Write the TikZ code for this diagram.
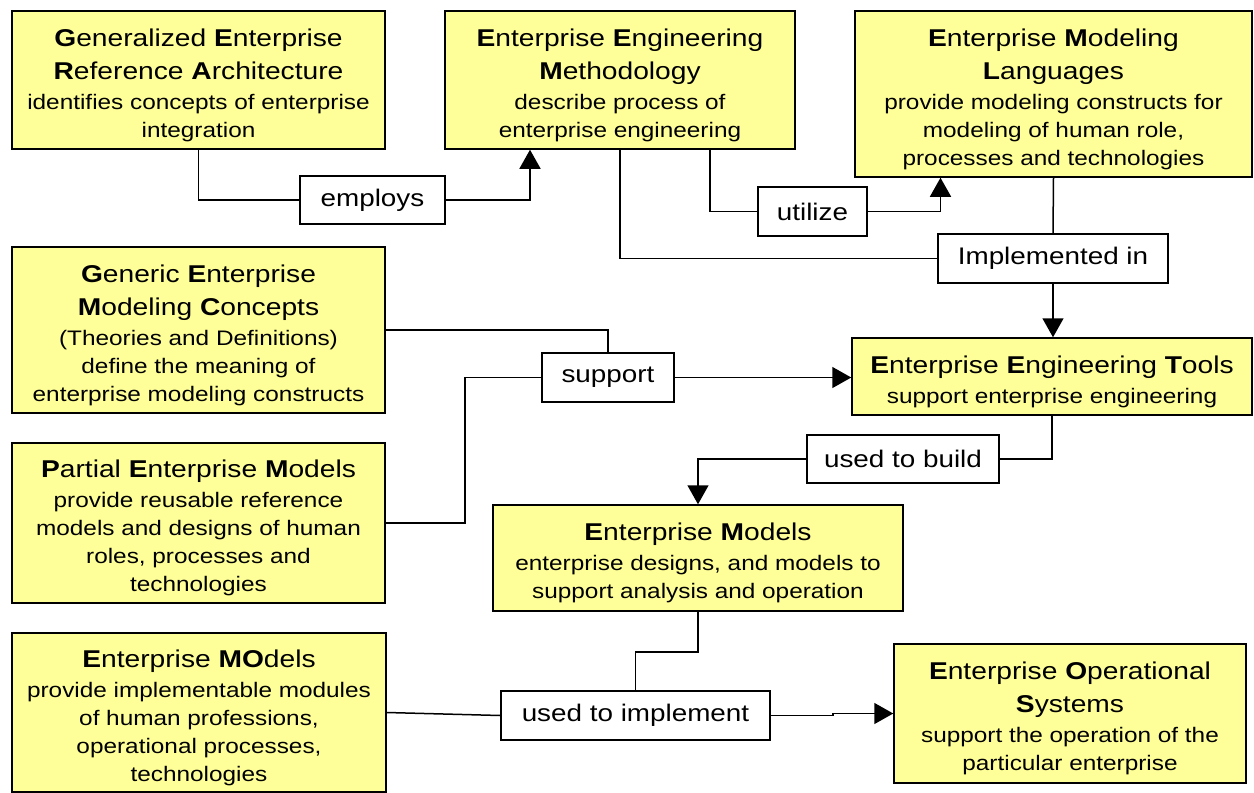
\documentclass[tikz,border=0pt]{standalone}
\usepackage{fontspec}
\setmainfont[FakeStretch=1.16]{Liberation Sans}
\usetikzlibrary{arrows.meta}

\definecolor{boxyellow}{RGB}{255,255,153}
\newcommand{\ttlfont}{\fontsize{24.3}{33}\selectfont\spaceskip=0.32em\relax}
\newcommand{\descfont}{\fontsize{21}{28}\selectfont\spaceskip=0.32em\relax}

\begin{document}
\begin{tikzpicture}[x=1pt,y=-1pt,line width=1.5pt,
    >={Triangle[length=19pt,width=21pt]}]

      \useasboundingbox (0,0) rectangle (1254,793);

      \begin{scope}[every node/.style={draw,fill=boxyellow,align=center,inner sep=0pt,
          execute at begin node={\rule{0pt}{28pt}}}]
        \node[minimum width=373pt,minimum height=138pt,text width=365pt] (gera) at (198.5,80)
          {\ttlfont\textbf{G}eneralized \textbf{E}nterprise\\ \textbf{R}eference \textbf{A}rchitecture\\[2pt]
           \descfont identifies concepts of enterprise\\ integration\par};
        \node[minimum width=350pt,minimum height=138pt,text width=342pt] (eem) at (620,80)
          {\ttlfont\textbf{E}nterprise \textbf{E}ngineering\\ \textbf{M}ethodology\\[2pt]
           \descfont describe process of\\ enterprise engineering\par};
        \node[minimum width=397pt,minimum height=166pt,text width=389pt] (eml) at (1053.5,94)
          {\ttlfont\textbf{E}nterprise \textbf{M}odeling\\ \textbf{L}anguages\\[2pt]
           \descfont provide modeling constructs for\\ modeling of human role,\\ processes and technologies\par};
        \node[minimum width=373pt,minimum height=166pt,text width=365pt] (gemc) at (198.5,330)
          {\ttlfont\textbf{G}eneric \textbf{E}nterprise\\ \textbf{M}odeling \textbf{C}oncepts\\[2pt]
           \descfont (Theories and Definitions)\\ define the meaning of\\ enterprise modeling constructs\par};
        \node[minimum width=400pt,minimum height=77pt,text width=392pt] (eet) at (1052,376.5)
          {\ttlfont\textbf{E}nterprise \textbf{E}ngineering \textbf{T}ools\\[2pt]
           \descfont support enterprise engineering\par};
        \node[minimum width=373pt,minimum height=160pt,text width=365pt] (pem) at (198.5,523)
          {\ttlfont\textbf{P}artial \textbf{E}nterprise \textbf{M}odels\\[2pt]
           \descfont provide reusable reference\\ models and designs of human\\ roles, processes and\\ technologies\par};
        \node[minimum width=410pt,minimum height=106pt,text width=402pt] (em) at (698,558)
          {\ttlfont\textbf{E}nterprise \textbf{M}odels\\[2pt]
           \descfont enterprise designs, and models to\\ support analysis and operation\par};
        \node[minimum width=374pt,minimum height=159pt,text width=366pt] (emo) at (199,712.5)
          {\ttlfont\textbf{E}nterprise \textbf{MO}dels\\[2pt]
           \descfont provide implementable modules\\ of human professions,\\ operational processes,\\ technologies\par};
        \node[minimum width=352pt,minimum height=139pt,text width=344pt] (eos) at (1070,713.5)
          {\ttlfont\textbf{E}nterprise \textbf{O}perational\\ \textbf{S}ystems\\[2pt]
           \descfont support the operation of the\\ particular enterprise\par};
      \end{scope}

      \begin{scope}[every node/.style={draw,fill=white,inner sep=0pt,
          font=\fontsize{24}{28}\selectfont}]
        \node[minimum width=145pt,minimum height=48pt] (employs)   at (372.5,200)  {employs};
        \node[minimum width=109pt,minimum height=49pt] (utilize)   at (812.5,211.5) {utilize};
        \node[minimum width=230pt,minimum height=49pt] (impl)      at (1053,258.5) {Implemented in};
        \node[minimum width=132pt,minimum height=49pt] (support)   at (608,377.5)  {support};
        \node[minimum width=192pt,minimum height=48pt] (build)     at (903,459)    {used to build};
        \node[minimum width=269pt,minimum height=49pt] (implement) at (635.5,715.5) {used to implement};
      \end{scope}

      % connectors
      \draw (gera.south) |- (employs.west);
      \draw[->] (employs.east) -| ([xshift=-90pt]eem.south);
      \draw ([xshift=90pt]eem.south) |- (utilize.west);
      \draw[->] (utilize.east) -| ([xshift=-113pt]eml.south);
      \draw (eem.south) |- (impl.west);
      \draw (eml.south) -- (impl.north);
      \draw[->] (impl.south) -- (impl.south |- eet.north);
      \draw (gemc.east) -| (support.north);
      \draw (pem.east) -- ++(79,0) |- (support.west);
      \draw[->] (support.east) -- (support.east -| eet.west);
      \draw (eet.south) |- (build.east);
      \draw[->] (build.west) -| (em.north);
      \draw (em.south) -- ++(0,40) -| (implement.north);
      \draw (emo.east) -- (implement.west);
      \draw[->] (implement.east) -- ++(62,0) |- (eos.west);

    \end{tikzpicture}
\end{document}
